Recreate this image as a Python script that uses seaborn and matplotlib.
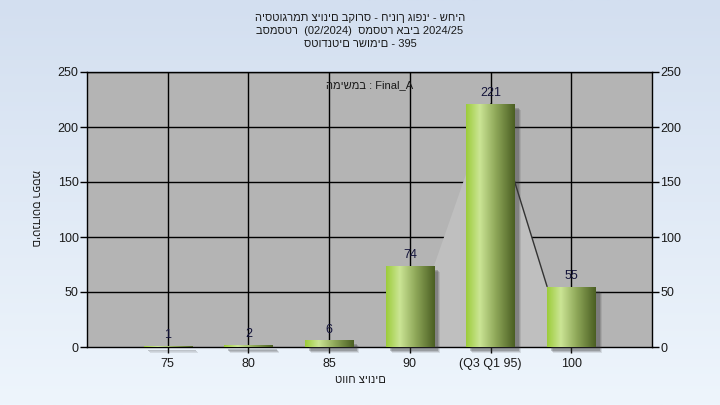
import numpy as np
import pandas as pd
import matplotlib
matplotlib.use("Agg")
import matplotlib.pyplot as plt
import matplotlib.transforms as mtransforms
from matplotlib.colors import LinearSegmentedColormap
from matplotlib.patches import Rectangle, Polygon
import seaborn as sns

categories = ["75", "80", "85", "90", "(Q3 Q1 95)", "100"]
counts = [1, 2, 6, 74, 221, 55]
yticks = [0, 50, 100, 150, 200, 250]
title_lines = ["היסטוגרמת ציונים בקורס - חינוך גופני - שחיה",
               "בסמסטר  (02/2024)  סמסטר אביב 2024/25",
               "סטודנטים רשומים - 395"]
ylabel = "מספר סטודנטים"
xlabel = "טווח ציונים"
note = "במשימה : Final_A"


def is_heb(tok):
    return any('\u0590' <= c <= '\u05FF' for c in tok)


def vis_words(s):
    # display each Hebrew word right-to-left, keep word order
    return " ".join(t[::-1] if is_heb(t) else t for t in s.split(" "))


sns.set_theme(style="white")
plt.rcParams['font.family'] = ['Liberation Sans', 'DejaVu Sans']

fig = plt.figure(figsize=(7.2, 4.05), dpi=100)

# background gradient
bg = fig.add_axes([0, 0, 1, 1], zorder=-10)
bg.axis("off")
bgcm = LinearSegmentedColormap.from_list("bg", ["#d3dff0", "#eef5fc"])
bg.imshow(np.linspace(0, 1, 256)[:, None], cmap=bgcm, aspect="auto",
          extent=[0, 1, 0, 1])
bg.set_xlim(0, 1); bg.set_ylim(0, 1)

ax = fig.add_axes([87/720, 58/405, 565/720, 275/405])
ax.set_facecolor("#b4b4b4")

df = pd.DataFrame({"cat": categories, "n": counts})
sns.barplot(data=df, x="cat", y="n", order=categories, width=0.6, ax=ax,
            color="#9dcb3f", zorder=4)

ax.set_xlim(-1, len(categories))
ax.set_ylim(0, 250)

# grid
for yv in yticks[1:]:
    ax.axhline(yv, color="black", lw=1, zorder=1)
for i in range(len(categories)):
    ax.axvline(i, color="black", lw=1, zorder=1)

# lighter polygon around the Q1-Q3 bin
hw = 0.3
poly_pts = [(3 + hw, 0), (3 + hw, counts[3]), (4, counts[4]),
            (5 - hw, counts[5]), (5 - hw, 0)]
ax.add_patch(Polygon(poly_pts, closed=True, facecolor="#bfbfbf",
                     edgecolor="none", zorder=2))
ax.plot([4, 5 - hw], [counts[4], counts[5]], color="#333333", lw=1, zorder=2.5)

bar_cm = LinearSegmentedColormap.from_list(
    "bar", [(0, "#9ccc3a"), (0.28, "#cbe595"), (0.6, "#90a95a"), (1, "#4a5e22")])
grad = np.linspace(0, 1, 256)[None, :]
for p in ax.patches:
    if not isinstance(p, Rectangle) or p.get_height() <= 0:
        continue
    x0, y0, w, h = p.get_x(), p.get_y(), p.get_width(), p.get_height()
    # shadow
    for k, a in [(6, 0.12), (5, 0.18), (4, 0.25)]:
        tr = mtransforms.offset_copy(ax.transData, fig=fig, x=k, y=-k, units="dots")
        ax.add_patch(Rectangle((x0, y0), w, h, transform=tr, facecolor="#3a3a3a",
                               alpha=a, edgecolor="none", zorder=3, clip_on=False))
    im = ax.imshow(grad, cmap=bar_cm, extent=[x0, x0 + w, y0, y0 + h],
                   aspect="auto", zorder=4.5)
    im.set_clip_path(p)
    p.set_facecolor("none")
    p.set_edgecolor("none")
    ax.text(x0 + w / 2, y0 + h + 4, f"{int(h)}", ha="center", va="bottom",
            fontsize=9, color="#14143a", zorder=6)

ax.set_xlim(-1, len(categories))
ax.set_ylim(0, 250)
ax.set_xticks(range(len(categories)))
ax.set_xticklabels(categories)
ax.set_yticks(yticks)
ax.tick_params(axis="y", left=True, right=True, labelleft=True, labelright=True,
               direction="out", length=5, width=1, color="black",
               labelsize=9, labelcolor="#1a1a1a", pad=1)
ax.tick_params(axis="x", bottom=True, direction="out", length=4, width=1,
               color="black", labelsize=9, labelcolor="#1a1a1a", pad=4)
for s in ax.spines.values():
    s.set_color("black")
    s.set_linewidth(1)
    s.set_visible(True)
ax.set_xlabel("")
ax.set_ylabel("")

fig.text(360/720, 1 - 380/405, xlabel, ha="center", va="center",
         fontsize=8, color="#1a1a1a")
fig.text(35/720, 1 - 208/405, ylabel, ha="center", va="center",
         fontsize=8, rotation=270, color="#1a1a1a")
ax.text(0.5, 0.953, vis_words(note), transform=ax.transAxes, ha="center",
        va="center", fontsize=8, color="#1a1a1a", zorder=7)
for i, line in enumerate(title_lines):
    fig.text(0.5, 1 - (18 + 13 * i) / 405, line, ha="center",
             va="center", fontsize=8, color="#1a1a1a")

fig.savefig("out.png", dpi=100)
